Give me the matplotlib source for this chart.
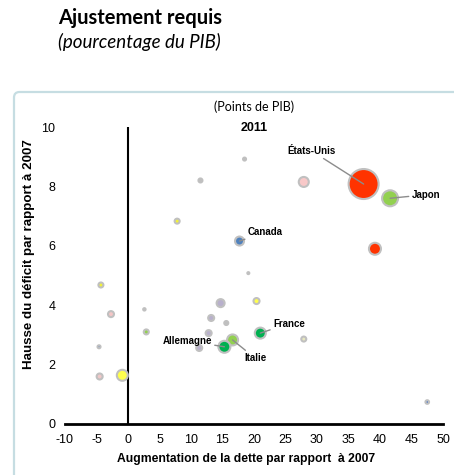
import matplotlib.pyplot as plt
from matplotlib.patches import FancyBboxPatch

# hausse de la dette (x), hausse du deficit (y), rayon des bulles (px), couleur
dette = [-0.9, -4.3, -2.7, -4.6, -4.5, 2.6, 2.9, 7.8, 11.5, 18.5, 19.1,
         27.9, 27.9, 12.8, 11.3, 13.2, 14.7, 15.6, 20.4, 39.2, 47.5,
         17.7, 16.6, 15.3, 21.0, 41.6, 37.4]
deficit = [1.64, 4.68, 3.7, 2.6, 1.6, 3.86, 3.1, 6.83, 8.2, 8.92, 5.08,
           8.15, 2.86, 3.06, 2.56, 3.57, 4.07, 3.4, 4.14, 5.9, 0.74,
           6.16, 2.83, 2.6, 3.06, 7.6, 8.08]
poids = [5.5, 2.5, 3, 1.5, 3, 1.2, 2.5, 2.5, 2, 1.5, 1,
         5, 2.5, 3, 3, 3, 4, 2, 3, 6, 1.8,
         4.5, 5.5, 6, 5.5, 8, 15]
couleurs = ['#ffff4d', '#f2f23a', '#f4c6c6', '#4472c4', '#f0c8c8', '#bfbfbf',
            '#92d050', '#f2f23a', '#bfbfbf', '#bfbfbf', '#4472c4',
            '#f8c8c8', '#e8e8c0', '#b8b0cc', '#b8b0cc', '#b8b0cc', '#b8b0cc',
            '#bfbfbf', '#ffff4d', '#ff3300', '#4472c4',
            '#4f81bd', '#92d050', '#00b050', '#00b050', '#92d050', '#ff3300']

pays = ['États-Unis', 'Japon', 'Canada', 'France', 'Allemagne', 'Italie']
pays_x = [37.4, 41.6, 17.7, 21.0, 15.3, 16.6]
pays_y = [8.08, 7.6, 6.16, 3.06, 2.6, 2.83]
etiq_x = [29.1, 45.0, 19.0, 23.0, 9.4, 18.4]
etiq_y = [9.2, 7.72, 6.45, 3.38, 2.8, 2.22]
etiq_ha = ['center', 'left', 'left', 'left', 'center', 'left']

plt.rcParams['font.family'] = ['Liberation Sans', 'DejaVu Sans']
plt.rcParams['axes.unicode_minus'] = False

fig = plt.figure(figsize=(4.54, 4.75), dpi=100)

fig.text(58 / 454, 1 - 18 / 475, 'Ajustement requis', fontsize=14.5,
         fontweight='bold', family=['Lato', 'DejaVu Sans'], va='center')
fig.text(58 / 454, 1 - 42 / 475, '(pourcentage du PIB)', fontsize=13.5,
         style='italic', family=['Lato', 'DejaVu Sans'], va='center')

cadre = FancyBboxPatch((14 / 454, -0.05), 1.0, 1 - 92 / 475 + 0.05,
                       boxstyle='round,pad=0,rounding_size=0.012',
                       transform=fig.transFigure, facecolor='white',
                       edgecolor='#c6dde2', linewidth=1.6, zorder=0)
fig.patches.append(cadre)

ax = fig.add_axes([65 / 454, 51 / 475, 378 / 454, 297 / 475])
ax.set_zorder(2)
ax.set_facecolor('none')

tailles = [(2 * r * 0.72) ** 2 for r in poids]
ax.scatter(dette, deficit, s=tailles, c=couleurs, edgecolors='#c0c0c0',
           linewidths=1.5, zorder=3)

ax.axvline(0, ymin=0, ymax=1, color='black', linewidth=1.5, zorder=2)

for nom, px, py, ex, ey, ha in zip(pays, pays_x, pays_y, etiq_x, etiq_y, etiq_ha):
    ax.annotate(nom, xy=(px, py), xytext=(ex, ey), ha=ha, va='center',
                fontsize=7, fontweight='bold', zorder=5,
                arrowprops=dict(arrowstyle='-', color='#8c8c8c', lw=1,
                                shrinkA=0, shrinkB=0))

ax.set_xlim(-10, 50)
ax.set_ylim(0, 10)
ax.set_xticks(range(-10, 51, 5))
ax.set_yticks(range(0, 11, 2))
ax.tick_params(length=0, labelsize=9, pad=7)
for s in ['top', 'right', 'left']:
    ax.spines[s].set_visible(False)
ax.spines['bottom'].set_linewidth(2)

ax.set_xlabel('Augmentation de la dette par rapport  à 2007', fontsize=8.7,
              fontweight='bold')
ax.xaxis.set_label_coords(0.48, -0.097)
ax.set_ylabel('Hausse du déficit par rapport à 2007', fontsize=9.6,
              fontweight='bold')
ax.yaxis.set_label_coords(-0.079, 0.572)

ax.text(0.5, 1.067, '(Points de PIB)', transform=ax.transAxes, ha='center',
        va='center', fontsize=9, family=['Lato', 'DejaVu Sans'])
ax.text(0.5, 0.995, '2011', transform=ax.transAxes, ha='center',
        va='center', fontsize=9, fontweight='bold')

fig.savefig('out.png', dpi=100)
